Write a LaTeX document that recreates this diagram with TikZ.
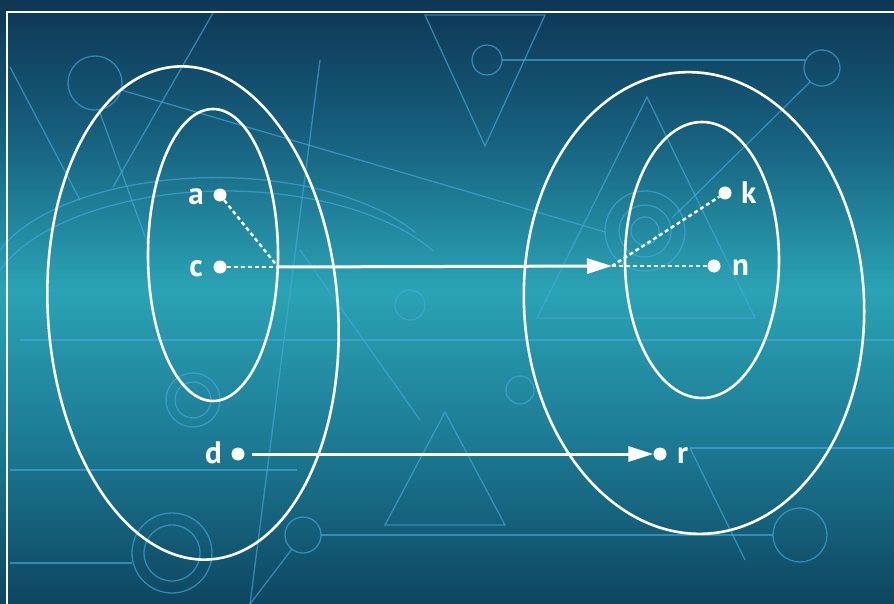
\documentclass[tikz,border=0pt]{standalone}
\usepackage{fontspec}
\setmainfont{PT Sans}
\usetikzlibrary{arrows.meta}
\definecolor{bgA}{HTML}{0D3553}
\definecolor{bgB}{HTML}{17617F}
\definecolor{bgC}{HTML}{2BA3B5}
\definecolor{bgD}{HTML}{1C7892}
\definecolor{bgE}{HTML}{0E4560}
\definecolor{deco}{HTML}{45A8DC}
\begin{document}
\begin{tikzpicture}[x=1pt,y=-1pt,
  setline/.style={white, line width=2.6pt},
  dot/.style={circle, fill=white, inner sep=0pt, minimum size=13pt},
  lbl/.style={text=white, font=\fontsize{31}{35}\selectfont\bfseries, inner sep=0pt},
  dashline/.style={white, line width=2.4pt, dash pattern=on 4pt off 3pt},
  maparrow/.style={white, line width=3pt, -{Triangle[length=25pt,width=15pt]}},
  decoline/.style={deco, line width=1.3pt, opacity=0.65}]
\useasboundingbox (0,0) rectangle (894,604);
\clip (0,0) rectangle (894,604);
% background
\shade[top color=bgA, bottom color=bgB] (0,-1) rectangle (894,140);
\shade[top color=bgB, bottom color=bgC] (0,139) rectangle (894,290);
\shade[top color=bgC, bottom color=bgD] (0,289) rectangle (894,450);
\shade[top color=bgD, bottom color=bgE] (0,449) rectangle (894,605);
% decorative pattern
\begin{scope}[decoline]
  \draw (95,83) circle [radius=27];
  \draw (121,90) -- (605,232);
  \draw (645,231) circle [radius=40] (645,231) circle [radius=26] (645,231) circle [radius=14];
  \draw (487,60) circle [radius=15];
  \draw (502,60) -- (805,60);
  \draw (822,68) circle [radius=18];
  \draw (810,82) -- (672,218);
  \draw (425,15) -- (545,15) -- (485,146) -- cycle;
  \draw (647,97) -- (537,318) -- (755,318) -- cycle;
  \draw (10,67) -- (80,200);
  \draw (213,13) -- (113,187);
  \draw (100,113) -- (150,250);
  \draw (193,400) circle [radius=27] (193,400) circle [radius=18];
  \draw (172,553) circle [radius=40] (172,553) circle [radius=28];
  \draw (303,535) circle [radius=18];
  \draw (321,535) -- (773,535);
  \draw (800,535) circle [radius=27];
  \draw (292,549) -- (250,604);
  \draw (690,448) -- (894,448);
  \draw (690,448) -- (745,560);
  \draw (10,470) -- (297,470);
  \draw (10,563) -- (132,563);
  \draw (445,412) -- (385,525) -- (505,525) -- cycle;
  \draw (410,305) circle [radius=15];
  \draw (520,390) circle [radius=14];
  \draw (0,250) arc [start angle=200, end angle=330, x radius=230, y radius=110];
  \draw (0,270) arc [start angle=200, end angle=330, x radius=240, y radius=120];
  \draw (640,604) arc [start angle=180, end angle=100, radius=260];
  \draw (600,604) arc [start angle=180, end angle=110, radius=290];
  \draw (320,60) -- (250,604);
  \draw (300,250) -- (420,420);
  \draw (20,340) -- (894,340);
\end{scope}
% frame
\draw[white, line width=2.5pt] (7,12) rectangle (905,615);
% sets
\draw[setline, rotate around={4:(193,313)}] (193,313) ellipse [x radius=145, y radius=247];
\draw[setline] (213,255) ellipse [x radius=65, y radius=146];
\draw[setline, rotate around={3:(694,303)}] (694,303) ellipse [x radius=170, y radius=231];
\draw[setline] (702,260) ellipse [x radius=77, y radius=138];
% points
\node[dot] (a) at (220,195) {};
\node[dot] (c) at (220,267) {};
\node[dot] (d) at (238,454) {};
\node[dot] (k) at (725,193) {};
\node[dot] (n) at (714,266) {};
\node[dot] (r) at (660,454) {};
\node[lbl, anchor=base east] (la) at (204,205) {a};
\node[lbl, anchor=base east] (lc) at (203,276) {c};
\node[lbl, anchor=base east] (ld) at (222,463) {d};
\node[lbl, anchor=base west] (lk) at (741,204) {k};
\node[lbl, anchor=base west] (ln) at (732,275) {n};
\node[lbl, anchor=base west] (lr) at (677,463) {r};
\coordinate (j1) at (278,267);
\coordinate (j2) at (612,266);
% mapping
\draw[dashline] (a) -- (j1);
\draw[dashline] (c) -- (j1);
\draw[maparrow] (j1) -- (j2);
\draw[dashline] (j2) -- (k);
\draw[dashline] (j2) -- (n);
\draw[maparrow, shorten <=7pt] (d) -- (r);
\end{tikzpicture}
\end{document}
